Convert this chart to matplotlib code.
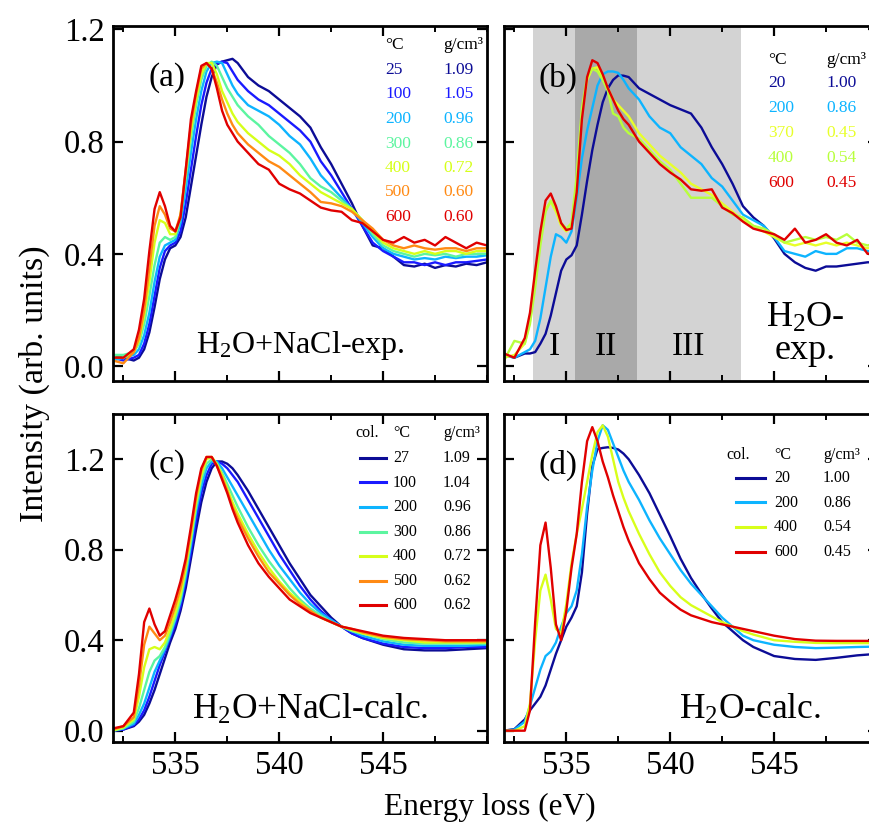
import matplotlib
matplotlib.use('Agg')
import matplotlib.pyplot as plt
from matplotlib.ticker import MultipleLocator, FixedLocator
from matplotlib.lines import Line2D

plt.rcParams['font.family'] = ['Liberation Serif', 'DejaVu Serif']
plt.rcParams['mathtext.fontset'] = 'custom'
plt.rcParams['mathtext.rm'] = 'Liberation Serif'
plt.rcParams['mathtext.it'] = 'Liberation Serif:italic'

# ---------------- data ----------------
E_exp = [532.0, 532.5, 533.0, 533.25, 533.5, 533.75, 534.0, 534.25, 534.5, 534.75,
         535.0, 535.25, 535.5, 535.75, 536.0, 536.25, 536.5, 536.75, 537.0, 537.25,
         537.5, 537.75, 538.0, 538.5, 539.0, 539.5, 540.0, 540.5, 541.0, 541.5,
         542.0, 542.5, 543.0, 543.5, 544.0, 544.5, 545.0, 545.5, 546.0, 546.5,
         547.0, 547.5, 548.0, 548.5, 549.0, 549.5, 550.0]

# panel (a): H2O+NaCl experiment
a_temps = ['25', '100', '200', '300', '400', '500', '600']
a_dens = ['1.09', '1.05', '0.96', '0.86', '0.72', '0.60', '0.60']
a_25 = [0.04, 0.03, 0.02, 0.03, 0.06, 0.12, 0.21, 0.31, 0.38, 0.42, 0.43, 0.46, 0.53, 0.64, 0.75, 0.86,
        0.96, 1.03, 1.075, 1.085, 1.09, 1.095, 1.08, 1.03, 1.00, 0.98, 0.95, 0.92, 0.89, 0.85, 0.78, 0.72,
        0.65, 0.58, 0.50, 0.43, 0.42, 0.39, 0.36, 0.355, 0.365, 0.35, 0.36, 0.355, 0.365, 0.36, 0.37]
a_100 = [0.03, 0.02, 0.03, 0.04, 0.08, 0.15, 0.25, 0.35, 0.41, 0.43, 0.44, 0.48, 0.58, 0.70, 0.82, 0.93,
         1.01, 1.06, 1.08, 1.085, 1.08, 1.05, 1.02, 0.98, 0.95, 0.93, 0.90, 0.87, 0.84, 0.80, 0.73, 0.68,
         0.62, 0.56, 0.50, 0.44, 0.41, 0.39, 0.37, 0.37, 0.36, 0.37, 0.36, 0.37, 0.37, 0.375, 0.38]
a_200 = [0.02, 0.03, 0.04, 0.06, 0.11, 0.19, 0.30, 0.39, 0.43, 0.44, 0.45, 0.51, 0.63, 0.76, 0.88, 0.98,
         1.05, 1.08, 1.085, 1.08, 1.04, 1.00, 0.97, 0.93, 0.91, 0.89, 0.86, 0.82, 0.79, 0.74, 0.68, 0.64,
         0.60, 0.56, 0.51, 0.46, 0.42, 0.40, 0.39, 0.38, 0.385, 0.38, 0.39, 0.385, 0.39, 0.39, 0.395]
a_300 = [0.04, 0.04, 0.05, 0.08, 0.15, 0.25, 0.36, 0.44, 0.46, 0.45, 0.46, 0.53, 0.67, 0.81, 0.93, 1.02,
         1.07, 1.085, 1.07, 1.03, 0.99, 0.96, 0.93, 0.89, 0.86, 0.82, 0.79, 0.76, 0.72, 0.67, 0.64, 0.62,
         0.59, 0.56, 0.52, 0.47, 0.43, 0.41, 0.40, 0.39, 0.40, 0.395, 0.40, 0.39, 0.40, 0.40, 0.40]
a_400 = [0.03, 0.03, 0.05, 0.09, 0.18, 0.30, 0.44, 0.52, 0.51, 0.47, 0.47, 0.54, 0.69, 0.84, 0.95, 1.04,
         1.08, 1.08, 1.04, 0.98, 0.94, 0.90, 0.87, 0.83, 0.80, 0.77, 0.75, 0.72, 0.68, 0.65, 0.62, 0.60,
         0.58, 0.56, 0.52, 0.48, 0.44, 0.42, 0.41, 0.40, 0.41, 0.40, 0.41, 0.41, 0.40, 0.41, 0.41]
a_500 = [0.02, 0.01, 0.05, 0.10, 0.20, 0.35, 0.50, 0.57, 0.54, 0.49, 0.48, 0.54, 0.70, 0.86, 0.97, 1.06,
         1.08, 1.06, 1.01, 0.95, 0.90, 0.86, 0.83, 0.79, 0.76, 0.73, 0.71, 0.68, 0.65, 0.62, 0.585, 0.58,
         0.57, 0.55, 0.52, 0.49, 0.45, 0.43, 0.42, 0.43, 0.42, 0.415, 0.42, 0.42, 0.41, 0.42, 0.42]
a_600 = [0.03, 0.03, 0.06, 0.13, 0.24, 0.41, 0.56, 0.62, 0.57, 0.50, 0.48, 0.53, 0.70, 0.88, 0.98, 1.07,
         1.08, 1.06, 0.99, 0.91, 0.86, 0.83, 0.80, 0.76, 0.72, 0.70, 0.65, 0.63, 0.615, 0.59, 0.565, 0.555,
         0.55, 0.52, 0.51, 0.48, 0.45, 0.44, 0.46, 0.44, 0.45, 0.43, 0.46, 0.44, 0.42, 0.44, 0.43]

# panel (b): H2O experiment
b_temps = ['20', '200', '370', '400', '600']
b_dens = ['1.00', '0.86', '0.45', '0.54', '0.45']
b_20 = [0.04, 0.03, 0.045, 0.045, 0.05, 0.08, 0.115, 0.18, 0.26, 0.34, 0.38, 0.395, 0.43, 0.54, 0.66, 0.77,
        0.86, 0.94, 0.99, 1.02, 1.036, 1.035, 1.03, 0.99, 0.97, 0.95, 0.93, 0.915, 0.90, 0.85, 0.78, 0.72,
        0.65, 0.57, 0.53, 0.50, 0.455, 0.40, 0.37, 0.35, 0.34, 0.355, 0.355, 0.36, 0.365, 0.37, 0.37]
b_200 = [0.04, 0.03, 0.05, 0.06, 0.09, 0.17, 0.28, 0.39, 0.47, 0.46, 0.44, 0.48, 0.60, 0.74, 0.84, 0.92,
         1.00, 1.04, 1.05, 1.05, 1.045, 1.02, 0.99, 0.95, 0.89, 0.85, 0.83, 0.78, 0.75, 0.72, 0.67, 0.64,
         0.59, 0.54, 0.52, 0.50, 0.46, 0.41, 0.40, 0.39, 0.41, 0.40, 0.40, 0.42, 0.42, 0.41, 0.41]
b_370 = [0.03, 0.04, 0.08, 0.16, 0.30, 0.45, 0.56, 0.585, 0.55, 0.50, 0.48, 0.50, 0.66, 0.90, 1.02, 1.06,
         1.065, 1.03, 0.99, 0.95, 0.93, 0.91, 0.89, 0.83, 0.79, 0.75, 0.72, 0.69, 0.65, 0.63, 0.61, 0.58,
         0.55, 0.52, 0.50, 0.48, 0.46, 0.44, 0.43, 0.44, 0.43, 0.44, 0.43, 0.44, 0.43, 0.42, 0.43]
b_400 = [0.02, 0.09, 0.08, 0.15, 0.28, 0.43, 0.55, 0.59, 0.56, 0.51, 0.49, 0.51, 0.68, 0.92, 1.03, 1.06,
         1.05, 1.02, 0.98, 0.90, 0.89, 0.85, 0.83, 0.81, 0.77, 0.73, 0.70, 0.65, 0.60, 0.60, 0.60, 0.57,
         0.54, 0.53, 0.50, 0.49, 0.47, 0.44, 0.45, 0.46, 0.45, 0.46, 0.45, 0.47, 0.44, 0.43, 0.44]
b_600 = [0.045, 0.03, 0.10, 0.19, 0.34, 0.48, 0.59, 0.615, 0.57, 0.51, 0.485, 0.49, 0.62, 0.88, 1.03, 1.09,
         1.08, 1.04, 0.99, 0.95, 0.91, 0.88, 0.86, 0.80, 0.76, 0.72, 0.69, 0.665, 0.63, 0.625, 0.63, 0.565,
         0.545, 0.515, 0.49, 0.48, 0.47, 0.45, 0.49, 0.44, 0.45, 0.47, 0.44, 0.43, 0.45, 0.40, 0.41]

E_calc = [532.0, 532.5, 533.0, 533.25, 533.5, 533.75, 534.0, 534.25, 534.5, 534.75,
          535.0, 535.25, 535.5, 535.75, 536.0, 536.25, 536.5, 536.75, 537.0, 537.25,
          537.5, 537.75, 538.0, 538.5, 539.0, 539.5, 540.0, 540.5, 541.0, 541.5,
          542.0, 542.5, 543.0, 543.5, 544.0, 545.0, 546.0, 547.0, 548.0, 549.0, 550.0]

# panel (c): H2O+NaCl calculation
c_temps = ['27', '100', '200', '300', '400', '500', '600']
c_dens = ['1.09', '1.04', '0.96', '0.86', '0.72', '0.62', '0.62']
c_27 = [0.0, 0.005, 0.02, 0.04, 0.07, 0.12, 0.18, 0.25, 0.32, 0.39, 0.45, 0.53, 0.63, 0.76, 0.89, 1.01,
        1.10, 1.16, 1.19, 1.19, 1.18, 1.16, 1.13, 1.06, 0.98, 0.90, 0.82, 0.74, 0.67, 0.60, 0.55, 0.50,
        0.46, 0.43, 0.41, 0.38, 0.36, 0.355, 0.355, 0.36, 0.365]
c_100 = [0.0, 0.005, 0.025, 0.05, 0.09, 0.15, 0.22, 0.29, 0.35, 0.41, 0.47, 0.55, 0.66, 0.79, 0.93, 1.05,
         1.13, 1.18, 1.19, 1.18, 1.16, 1.13, 1.10, 1.02, 0.94, 0.86, 0.78, 0.71, 0.64, 0.58, 0.53, 0.49,
         0.46, 0.43, 0.41, 0.385, 0.37, 0.365, 0.365, 0.37, 0.37]
c_200 = [0.0, 0.01, 0.03, 0.07, 0.12, 0.19, 0.26, 0.31, 0.36, 0.42, 0.49, 0.57, 0.68, 0.82, 0.97, 1.08,
         1.16, 1.19, 1.19, 1.16, 1.12, 1.08, 1.04, 0.96, 0.88, 0.80, 0.73, 0.67, 0.61, 0.56, 0.52, 0.49,
         0.46, 0.44, 0.42, 0.395, 0.38, 0.375, 0.375, 0.375, 0.38]
c_300 = [0.0, 0.01, 0.04, 0.10, 0.18, 0.26, 0.31, 0.33, 0.37, 0.43, 0.50, 0.58, 0.70, 0.84, 0.99, 1.11,
         1.18, 1.20, 1.18, 1.14, 1.09, 1.04, 0.99, 0.90, 0.82, 0.75, 0.69, 0.63, 0.58, 0.54, 0.51, 0.48,
         0.46, 0.44, 0.43, 0.405, 0.39, 0.385, 0.385, 0.385, 0.385]
c_400 = [0.0, 0.015, 0.05, 0.15, 0.28, 0.36, 0.37, 0.36, 0.39, 0.45, 0.52, 0.60, 0.72, 0.86, 1.01, 1.13,
         1.20, 1.21, 1.18, 1.13, 1.07, 1.01, 0.96, 0.87, 0.79, 0.72, 0.66, 0.61, 0.57, 0.53, 0.50, 0.48,
         0.46, 0.445, 0.43, 0.41, 0.40, 0.39, 0.39, 0.39, 0.39]
c_500 = [0.005, 0.02, 0.06, 0.20, 0.38, 0.46, 0.43, 0.40, 0.42, 0.48, 0.55, 0.63, 0.74, 0.88, 1.03, 1.15,
         1.21, 1.21, 1.17, 1.12, 1.06, 0.99, 0.94, 0.85, 0.77, 0.70, 0.65, 0.60, 0.56, 0.53, 0.50, 0.48,
         0.46, 0.45, 0.435, 0.415, 0.405, 0.40, 0.395, 0.395, 0.395]
c_600 = [0.01, 0.02, 0.08, 0.25, 0.48, 0.54, 0.47, 0.42, 0.44, 0.51, 0.58, 0.66, 0.76, 0.90, 1.05, 1.16,
         1.21, 1.21, 1.17, 1.11, 1.05, 0.98, 0.92, 0.82, 0.74, 0.68, 0.63, 0.58, 0.55, 0.52, 0.50, 0.48,
         0.46, 0.45, 0.44, 0.42, 0.41, 0.405, 0.40, 0.40, 0.40]

# panel (d): H2O calculation
d_temps = ['20', '200', '400', '600']
d_dens = ['1.00', '0.86', '0.54', '0.45']
d_20 = [0.0, 0.007, 0.05, 0.09, 0.12, 0.15, 0.20, 0.27, 0.34, 0.40, 0.46, 0.50, 0.55, 0.70, 0.96, 1.17,
        1.245, 1.25, 1.253, 1.25, 1.243, 1.225, 1.20, 1.13, 1.05, 0.955, 0.86, 0.76, 0.675, 0.605, 0.54, 0.48,
        0.44, 0.40, 0.37, 0.33, 0.317, 0.313, 0.322, 0.333, 0.34]
d_200 = [0.0, 0.005, 0.04, 0.11, 0.19, 0.27, 0.33, 0.35, 0.39, 0.46, 0.52, 0.55, 0.62, 0.78, 0.99, 1.15,
         1.28, 1.35, 1.33, 1.27, 1.21, 1.15, 1.10, 1.02, 0.93, 0.85, 0.78, 0.71, 0.65, 0.60, 0.55, 0.50,
         0.46, 0.42, 0.40, 0.38, 0.37, 0.365, 0.367, 0.37, 0.372]
d_400 = [0.0, 0.0, 0.02, 0.12, 0.40, 0.62, 0.69, 0.58, 0.45, 0.43, 0.56, 0.74, 0.87, 0.98, 1.10, 1.22,
         1.32, 1.35, 1.30, 1.20, 1.10, 1.03, 0.97, 0.87, 0.78, 0.70, 0.64, 0.59, 0.555, 0.53, 0.505, 0.48,
         0.46, 0.44, 0.425, 0.40, 0.393, 0.388, 0.387, 0.387, 0.387]
d_600 = [0.0, 0.0, 0.0, 0.09, 0.48, 0.82, 0.92, 0.72, 0.47, 0.40, 0.53, 0.72, 0.87, 1.10, 1.28, 1.342,
         1.28, 1.19, 1.12, 1.04, 0.97, 0.90, 0.84, 0.74, 0.67, 0.61, 0.57, 0.535, 0.51, 0.495, 0.48, 0.47,
         0.46, 0.45, 0.44, 0.42, 0.405, 0.398, 0.397, 0.397, 0.397]

# region boundaries in (b) (eV)
reg_bounds = [533.4, 535.4, 538.4, 543.4]
reg_labels = ['I', 'II', 'III']

x_ticks = [535, 540, 545]
y_ticks = [0.0, 0.4, 0.8, 1.2]

# ---------------- colours ----------------
col7 = ['#0c0c96', '#1a1aff', '#0db4ff', '#5cf5a0', '#d6ff1a', '#ff8a14', '#e00000']
col_b = ['#0c0c96', '#0db4ff', '#e8ff2a', '#b8ff3c', '#e00000']
col_d = ['#0c0c96', '#0db4ff', '#d8ff1a', '#e00000']

# ---------------- figure ----------------
W, H = 869, 830
fig = plt.figure(figsize=(W / 100, H / 100), dpi=100)


def ax_at(x0, y0, x1, y1):
    return fig.add_axes([x0 / W, 1 - y1 / H, (x1 - x0) / W, (y1 - y0) / H])


axa = ax_at(113, 26, 487, 381)
axb = ax_at(504, 26, 878, 381)
axc = ax_at(113, 414, 487, 742)
axd = ax_at(504, 414, 878, 742)

FS = 23.5
LW = 1.7
for ax in (axa, axb, axc, axd):
    ax.set_xlim(532, 550)
    ax.xaxis.set_major_locator(FixedLocator(x_ticks))
    ax.xaxis.set_minor_locator(MultipleLocator(2.5))
    ax.yaxis.set_major_locator(FixedLocator(y_ticks))
    ax.tick_params(which='both', direction='in', top=True, right=True, labelsize=FS)
    ax.tick_params(which='major', length=7, width=1.6, pad=6)
    ax.tick_params(which='minor', length=4, width=1.4)
    for s in ax.spines.values():
        s.set_linewidth(2.0)
for ax in (axa, axb):
    ax.set_ylim(-0.053, 1.212)
    ax.tick_params(labelbottom=False)
for ax in (axc, axd):
    ax.set_ylim(-0.05, 1.4)
for ax in (axb, axd):
    ax.tick_params(labelleft=False)


def fx(x):
    return x / W


def fy(y):
    return 1 - y / H


# panel (a)
for vals, c in zip([a_25, a_100, a_200, a_300, a_400, a_500, a_600], col7):
    axa.plot(E_exp, vals, color=c, lw=LW)

# panel (b)
axb.axvspan(reg_bounds[0], reg_bounds[1], color='#d3d3d3', lw=0, zorder=0)
axb.axvspan(reg_bounds[1], reg_bounds[2], color='#a9a9a9', lw=0, zorder=0)
axb.axvspan(reg_bounds[2], reg_bounds[3], color='#d3d3d3', lw=0, zorder=0)
for vals, c in zip([b_20, b_200, b_370, b_400, b_600], col_b):
    axb.plot(E_exp, vals, color=c, lw=LW)
for i, lab in enumerate(reg_labels):
    axb.text((reg_bounds[i] + reg_bounds[i + 1]) / 2, 0.015, lab, fontsize=24, ha='center', va='bottom')

# panel (c)
for vals, c in zip([c_27, c_100, c_200, c_300, c_400, c_500, c_600], col7):
    axc.plot(E_calc, vals, color=c, lw=LW)

# panel (d)
for vals, c in zip([d_20, d_200, d_400, d_600], col_d):
    axd.plot(E_calc, vals, color=c, lw=LW)

# panel letters and titles
PFS = 24
fig.text(fx(149), fy(78), '(a)', fontsize=PFS, va='center', ha='left')
fig.text(fx(539), fy(78), '(b)', fontsize=PFS, va='center', ha='left')
fig.text(fx(149), fy(465), '(c)', fontsize=PFS, va='center', ha='left')
fig.text(fx(539), fy(465), '(d)', fontsize=PFS, va='center', ha='left')
fig.text(fx(300), fy(345), r'H$_2$O+NaCl-exp.', fontsize=23, ha='center', va='center')
fig.text(fx(805), fy(318), r'H$_2$O-', fontsize=26, ha='center', va='center')
fig.text(fx(805), fy(350), 'exp.', fontsize=26, ha='center', va='center')
fig.text(fx(310), fy(710), r'H$_2$O+NaCl-calc.', fontsize=25.5, ha='center', va='center')
fig.text(fx(750), fy(710), r'H$_2$O-calc.', fontsize=25.5, ha='center', va='center')

# legends (a)
LFS = 12.5
fig.text(fx(385), fy(45), '°C', fontsize=LFS, va='center')
fig.text(fx(443), fy(45), 'g/cm³', fontsize=LFS, va='center')
for i, (t, d, c) in enumerate(zip(a_temps, a_dens, col7)):
    y = 70 + i * 24.5
    fig.text(fx(385), fy(y), t, fontsize=LFS, color=c, va='center')
    fig.text(fx(443), fy(y), d, fontsize=LFS, color=c, va='center')

# legend (b)
fig.text(fx(768), fy(60), '°C', fontsize=LFS, va='center')
fig.text(fx(826), fy(60), 'g/cm³', fontsize=LFS, va='center')
for i, (t, d, c) in enumerate(zip(b_temps, b_dens, col_b)):
    y = 83 + i * 25
    fig.text(fx(768), fy(y), t, fontsize=LFS, color=c, va='center')
    fig.text(fx(826), fy(y), d, fontsize=LFS, color=c, va='center')

# legend (c)
CFS = 11.5
fig.text(fx(355), fy(433), 'col.', fontsize=CFS, va='center')
fig.text(fx(393), fy(433), '°C', fontsize=CFS, va='center')
fig.text(fx(443), fy(433), 'g/cm³', fontsize=CFS, va='center')
for i, (t, d, c) in enumerate(zip(c_temps, c_dens, col7)):
    y = 458 + i * 24.5
    fig.add_artist(Line2D([fx(360), fx(386)], [fy(y), fy(y)], color=c, lw=2.2))
    fig.text(fx(393), fy(y), t, fontsize=CFS, va='center')
    fig.text(fx(443), fy(y), d, fontsize=CFS, va='center')

# legend (d)
fig.text(fx(726), fy(455), 'col.', fontsize=CFS, va='center')
fig.text(fx(774), fy(455), '°C', fontsize=CFS, va='center')
fig.text(fx(823), fy(455), 'g/cm³', fontsize=CFS, va='center')
for i, (t, d, c) in enumerate(zip(d_temps, d_dens, col_d)):
    y = 478 + i * 24.5
    fig.add_artist(Line2D([fx(736), fx(765)], [fy(y), fy(y)], color=c, lw=2.2))
    fig.text(fx(774), fy(y), t, fontsize=CFS, va='center')
    fig.text(fx(823), fy(y), d, fontsize=CFS, va='center')

# axis labels
fig.text(fx(490), fy(807), 'Energy loss (eV)', fontsize=22.5, ha='center', va='center')
fig.text(fx(34), fy(384), 'Intensity (arb. units)', fontsize=24.5, ha='center', va='center', rotation=90)

fig.savefig('out.png', dpi=100)
